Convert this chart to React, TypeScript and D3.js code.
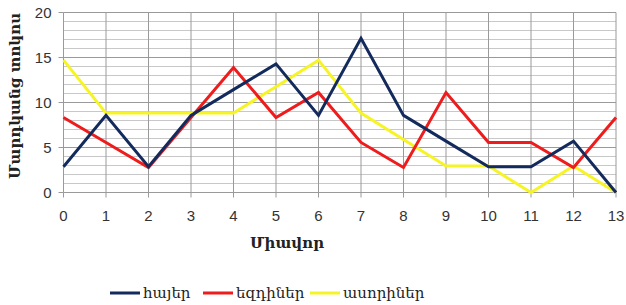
import React, { useEffect, useRef } from 'react';
import * as d3 from 'd3';

// x categories (score points)
const points = [0, 1, 2, 3, 4, 5, 6, 7, 8, 9, 10, 11, 12, 13];
// series values, percent of people
const hayer = [2.86, 8.57, 2.86, 8.57, 11.43, 14.29, 8.57, 17.14, 8.57, 5.71, 2.86, 2.86, 5.71, 0];
const yezdiner = [8.33, 5.56, 2.78, 8.33, 13.89, 8.33, 11.11, 5.56, 2.78, 11.11, 5.56, 5.56, 2.78, 8.33];
const asoriner = [14.71, 8.82, 8.82, 8.82, 8.82, 11.76, 14.71, 8.82, 5.88, 2.94, 2.94, 0, 2.94, 0];
const seriesNames = ['հայեր', 'եզդիներ', 'ասորիներ'];
const seriesColors = ['#132a5c', '#ee1c1c', '#f7f425'];
const yTicks = [0, 5, 10, 15, 20];

const W = 626;
const H = 305;

export default function App() {
  const ref = useRef<SVGSVGElement>(null);

  useEffect(() => {
    if (!ref.current) return;
    const svg = d3.select(ref.current);
    svg.selectAll('*').remove();

    const x = d3.scaleLinear().domain([0, 13]).range([63.5, 616]);
    const y = d3.scaleLinear().domain([0, 20]).range([192.5, 12.5]);

    const g = svg.append('g');

    // minor horizontal grid (every 1)
    g.selectAll('line.minor')
      .data(d3.range(1, 20).filter(v => v % 5 !== 0))
      .enter().append('line')
      .attr('x1', x(0)).attr('x2', x(13))
      .attr('y1', d => y(d)).attr('y2', d => y(d))
      .attr('stroke', '#c8c8c8').attr('stroke-width', 1);

    // vertical grid
    g.selectAll('line.vg')
      .data(points)
      .enter().append('line')
      .attr('x1', d => x(d)).attr('x2', d => x(d))
      .attr('y1', y(0)).attr('y2', y(20))
      .attr('stroke', '#9a9a9a').attr('stroke-width', 1);

    // major horizontal grid
    g.selectAll('line.major')
      .data(yTicks)
      .enter().append('line')
      .attr('x1', x(0)).attr('x2', x(13))
      .attr('y1', d => y(d)).attr('y2', d => y(d))
      .attr('stroke', '#9a9a9a').attr('stroke-width', 1);

    // y ticks + labels
    g.selectAll('line.yt')
      .data(yTicks)
      .enter().append('line')
      .attr('x1', x(0) - 5).attr('x2', x(0))
      .attr('y1', d => y(d)).attr('y2', d => y(d))
      .attr('stroke', '#9a9a9a');
    g.selectAll('text.yl')
      .data(yTicks)
      .enter().append('text')
      .attr('x', x(0) - 12).attr('y', d => y(d) + 5)
      .attr('text-anchor', 'end')
      .attr('font-family', 'Liberation Sans, Arial, sans-serif')
      .attr('font-size', 15)
      .attr('fill', '#333')
      .text(d => d);

    // x ticks + labels
    g.selectAll('line.xt')
      .data(points)
      .enter().append('line')
      .attr('x1', d => x(d)).attr('x2', d => x(d))
      .attr('y1', y(0)).attr('y2', y(0) + 5)
      .attr('stroke', '#9a9a9a');
    g.selectAll('text.xl')
      .data(points)
      .enter().append('text')
      .attr('x', d => x(d)).attr('y', 221)
      .attr('text-anchor', 'middle')
      .attr('font-family', 'Liberation Sans, Arial, sans-serif')
      .attr('font-size', 15)
      .attr('fill', '#333')
      .text(d => d);

    // lines
    const allSeries = [hayer, yezdiner, asoriner];
    const line = d3.line<number>().x((_, i) => x(points[i])).y(d => y(d));
    // draw yellow first, then red, then navy on top like the reference
    [2, 1, 0].forEach(i => {
      g.append('path')
        .datum(allSeries[i])
        .attr('d', line)
        .attr('fill', 'none')
        .attr('stroke', seriesColors[i])
        .attr('stroke-width', 3)
        .attr('stroke-linejoin', 'miter');
    });

    // axis titles
    g.append('text')
      .attr('x', 287).attr('y', 248)
      .attr('text-anchor', 'middle')
      .attr('font-family', 'DejaVu Serif, serif')
      .attr('font-weight', 'bold')
      .attr('font-size', 15)
      .attr('fill', '#222')
      .text('Միավոր');
    g.append('text')
      .attr('transform', 'translate(20,96) rotate(-90)')
      .attr('text-anchor', 'middle')
      .attr('font-family', 'DejaVu Serif, serif')
      .attr('font-weight', 'bold')
      .attr('font-size', 15)
      .attr('fill', '#222')
      .text('Մարդկանց տոկոս');

    // legend
    const legendX = [110, 203, 310];
    const leg = g.selectAll('g.leg')
      .data(seriesNames)
      .enter().append('g')
      .attr('transform', (_, i) => `translate(${legendX[i]},293)`);
    leg.append('line')
      .attr('x1', 0).attr('x2', 30)
      .attr('y1', 0).attr('y2', 0)
      .attr('stroke', (_, i) => seriesColors[i])
      .attr('stroke-width', 3);
    leg.append('text')
      .attr('x', 33).attr('y', 5)
      .attr('font-family', 'DejaVu Serif, serif')
      .attr('font-size', 15)
      .attr('fill', '#222')
      .text(d => d);
  }, []);

  return (
    <svg
      ref={ref}
      width={W}
      height={H}
      style={{ position: 'absolute', left: 0, top: 0, background: '#fff' }}
    />
  );
}
